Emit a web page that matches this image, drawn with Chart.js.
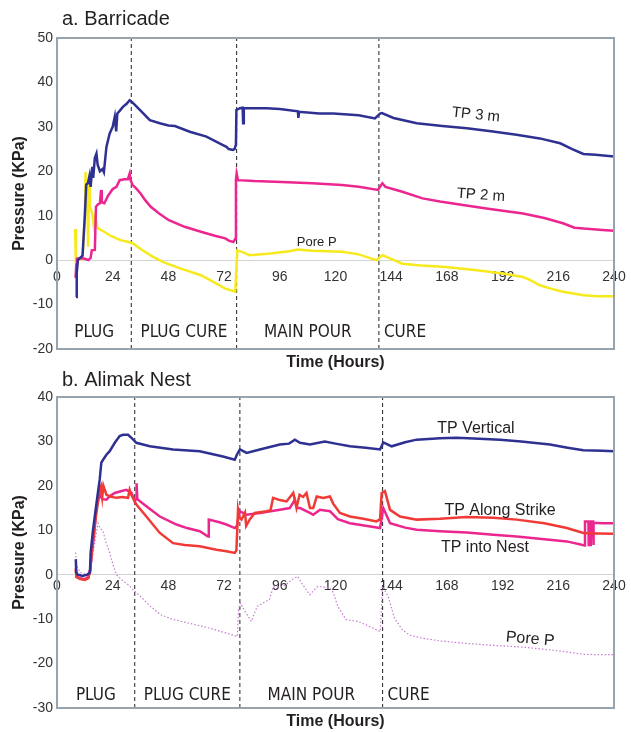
<!DOCTYPE html>
<html lang="en">
<head>
<meta charset="UTF-8">
<title>Barricade and Alimak Nest pressures</title>
<script src="https://cdn.jsdelivr.net/npm/chart.js@4"></script>
<style>
  body { margin: 0; background: #fff; }
  #wrap { position: relative; width: 631px; height: 732px; }
  canvas { position: absolute; left: 0; }
  #chartA { top: 0; }
  #chartB { top: 366px; }
</style>
</head>
<body>
<div id="wrap">
  <canvas id="chartA" width="631" height="380"></canvas>
  <canvas id="chartB" width="631" height="366"></canvas>
</div>
<script>
// ---- data: [hour, kPa] pairs ----
const phaseNames = ["PLUG", "PLUG CURE", "MAIN POUR", "CURE"];

// a. Barricade
const barricadePhases = [32, 77.4, 138.7];
const barricadeTP3 = [[8.2,-8.3],[8.5,-3],[9,0],[10,0.5],[11,1],[12,10],[12.6,17],[13.3,17.3],[14,19],[14.5,16.5],[15.2,21],[15.6,18.5],[16.3,23],[17,24],[17.5,21.5],[18.5,20],[19.6,20.5],[20.2,19.8],[21.3,25.5],[22.7,28.5],[24,30],[24.9,32.3],[25.5,29],[26,33],[27,33.6],[28.4,34.5],[30,35.2],[31.3,36],[32.5,35.5],[35.7,33.8],[40,31.5],[44.3,30.8],[48,30.3],[50.8,30.2],[57.2,28.9],[64.4,27.8],[71.5,25.9],[73,25.5],[74,25],[75.8,24.8],[76.5,25],[77.1,26],[77.3,33.8],[78.8,34.2],[80,34.3],[80.2,30.8],[80.5,34.2],[90.3,34.2],[96,34],[103.8,33.5],[104,32],[104.3,33.4],[113,33],[119,33],[130,32.6],[137,31.9],[139.2,33],[140,33.1],[145,32],[155,30.8],[166,30.2],[176.6,29.7],[187,29],[198,28.2],[208,27.4],[216.8,26.3],[222,25],[226.8,23.9],[232,23.7],[240,23.3]];
const barricadeTP2 = [[8,-4],[8.3,-1],[8.6,0.3],[10,0.5],[12,0.3],[13.5,0],[14.5,0.5],[15,2.2],[16.3,2.3],[16.8,12],[17.5,12.5],[18.5,12.8],[19,15.8],[19.3,13],[20.4,12.8],[22,14.5],[24,16],[25.6,16.5],[27,18],[29,18.2],[30.5,18.2],[31.3,19.5],[31.7,18],[32.6,16.9],[34,16.2],[36,15],[38,13.5],[40.4,12],[44,10.5],[48.2,9],[55,7.5],[62,6.4],[68,5.5],[72.5,4.9],[74,4.4],[76,4.1],[76.8,4.8],[77.1,18],[77.4,19.5],[78,18],[85,17.8],[96.8,17.6],[110,17.3],[122.8,16.9],[130,16.5],[138.3,15.8],[140.2,17.3],[141.5,16.5],[148.8,15.4],[157.5,13.9],[165,13.2],[174.9,12.4],[185,11.6],[200.8,10.5],[210,9.5],[218,8.3],[223,7.3],[226.9,7.1],[235,6.8],[240,6.6]];
const barricadePore = [[7.8,7],[8.1,0],[8.6,0.3],[11,0.2],[12,10],[12.3,19.9],[12.6,15],[13,18],[13.4,3],[13.8,17],[14.2,12],[15.2,10.5],[15.8,8],[16.5,10],[17.3,7.5],[17.8,7.1],[20,6.5],[23,5.5],[27.3,4.5],[30,4.2],[32.6,3.8],[36,2.5],[41.2,0.8],[46,-0.5],[53.4,-1.9],[62,-3.4],[66,-4.5],[72.5,-6.4],[76.8,-7.1],[77.7,2.2],[80,1.8],[82.9,1.1],[92,1.5],[100,2],[103.7,2.4],[110,2.1],[122.8,1.9],[130,1.3],[137.6,0],[140.2,1.1],[143,0.5],[148.8,-0.8],[157,-1.2],[166.2,-1.5],[180,-2.2],[192.2,-3],[200.8,-3.8],[204,-4.5],[207.8,-5.6],[212,-6.3],[218,-7.1],[226.9,-7.9],[233,-8.1],[240,-8.1]];

// b. Alimak Nest
const nestPhases = [33.5, 78.8, 140.3];
const nestVertical = [[8.1,3.5],[8.3,0.5],[9,0],[11,-0.3],[13,0],[14.2,0.5],[14.5,5],[15.5,10],[16.5,14],[17.5,18],[18.4,21.4],[19.1,25.2],[20,26],[21.3,27],[22.7,27.8],[24.9,29.7],[27,31.2],[28.5,31.5],[30.6,31.5],[32.1,30.8],[34.2,29.7],[40,28.9],[50,28.2],[61.5,27.8],[71.5,26.6],[76.6,25.9],[77.5,27],[78.8,28.2],[81.7,27.4],[87.4,28.2],[96,29.3],[100,29.5],[102.5,30.4],[104.7,29.7],[109,29.3],[115.4,30],[120,29.5],[126.2,28.9],[133,28.6],[139.2,28.2],[140.6,29.8],[144.2,28.9],[150,29.8],[155,30.4],[165,30.7],[172.2,30.8],[182,30.6],[190.9,30.4],[200,30],[212.4,29.3],[220,28.6],[226.8,28],[235,27.9],[240,27.8]];
const nestStrike = [[8.1,1.5],[8.4,-0.5],[10,-1],[12,-1.2],[13.5,-0.8],[14.3,1],[15,5],[16,10],[17,14],[18.4,19.1],[19,19.9],[19.5,17.5],[20,20],[21.3,18],[23,17.6],[25.6,17.3],[28,17.5],[30.6,17.3],[31.3,19.1],[32,18],[34.2,15.8],[38.5,13.1],[44.3,9.4],[50,7.1],[55,6.7],[61.5,6.4],[68.7,5.6],[73,5.3],[76.6,4.9],[77.3,5.5],[78,14.6],[78.5,13],[79.5,12.4],[81,14],[81.5,11],[83,12.4],[85.2,13.9],[90.3,14.3],[92,14.5],[93.1,17.3],[96,16.8],[98.9,16.5],[101.8,18.4],[103.2,15],[104.5,18],[106,17.5],[107.5,18.4],[109,15],[110.4,15],[111.9,17.6],[114.7,17.3],[117.6,17.6],[119,16],[121.9,13.9],[126.2,13.1],[132,12.6],[137.7,12],[139.2,12.5],[139.9,18.4],[141.3,18.8],[143.5,14.6],[147.8,13.1],[155,12.4],[165,12.6],[176.5,13],[188,12.8],[198.1,12.4],[210,11.6],[219.7,10.5],[226.8,9.4],[233,9.3],[240,9.2]];
const nestInto = [[8.1,1],[8.4,-0.5],[10,-0.8],[12,-1],[13.5,-0.5],[14.3,1],[15,5],[16,9],[17,15.4],[18.4,18],[19.5,17],[21.3,16.9],[23,17.8],[24.9,18.4],[27.5,18.8],[29.9,19.1],[32.1,18.4],[33.5,16.5],[34.1,17],[34.3,20.6],[34.6,17],[38.5,15.4],[44.3,13.1],[51.5,11.3],[56,10.5],[61.5,9.8],[65.1,8.6],[65.4,12.4],[70,11.8],[73,11.3],[76.6,10.5],[77.5,11],[78.8,14.3],[81.6,13.5],[87.4,13.9],[96,14.6],[100.3,15],[102.5,16.9],[103.5,15],[104.7,15],[109,13.9],[110.4,13.5],[113.3,14.6],[117.6,14.3],[121,12.5],[126.2,11.6],[133,11],[139.2,10.5],[140.6,15],[143.5,11.6],[150,10.6],[155,10.1],[165,9.8],[176.5,9.5],[188,9],[198.1,8.6],[210,8],[219.7,7.5],[227.4,6.6],[227.5,12],[229,12],[229.1,6.7],[230,6.7],[230.1,12],[231,12],[231.1,6.7],[231.3,11.7],[235,11.6],[240,11.6]];
const nestPore = [[8,5],[8.5,2],[10,0.5],[13,0],[15,3],[16.5,8],[17.7,11.6],[18.5,10.5],[19.8,9.8],[21,7.5],[22.7,4.9],[24,2.5],[25.6,0],[28,-1.2],[30.8,-2.3],[33,-3.5],[36,-4.9],[40,-7],[44.7,-9],[49,-9.9],[53.4,-10.5],[60,-11.3],[65.5,-12],[72,-13],[77.7,-13.9],[78.2,-8],[79,-6.4],[81.1,-8.3],[83.7,-10.5],[86.3,-7.1],[89,-6.3],[91.5,-5.6],[93.3,-2.6],[96,-2.8],[98.5,-2.3],[102,-0.8],[103.7,-0.4],[105.4,-1.9],[108.9,-4.5],[112.4,-2.6],[117.6,-3],[119,-4],[121,-7.1],[124.5,-10.1],[129.7,-10.5],[133.2,-11.3],[139.3,-12.8],[140,-5],[140.2,-2.6],[142.7,-4.9],[145.4,-9.8],[148.8,-12.4],[152,-13.6],[157.5,-14.3],[165,-14.9],[174.9,-15.4],[188,-15.9],[200.8,-16.3],[214,-17],[226.9,-17.9],[233,-18],[240,-18]];

const FONT = '"Liberation Sans", Arial, sans-serif';
const NARROW = '"Liberation Sans Narrow", "DejaVu Sans Condensed", Arial, sans-serif';

function pts(pairs) { return pairs.map(p => ({x: p[0], y: p[1]})); }

function line(pairs, color, extra) {
    return Object.assign({
        data: pts(pairs), borderColor: color, borderWidth: 2.5,
        pointRadius: 0, tension: 0, fill: false
    }, extra || {});
}

// text, frame and phase labels
const decor = {
    id: "decor",
    afterDatasetsDraw(chart, args, o) {
        const {ctx, chartArea: a, scales: {x, y}} = chart;
        ctx.save();
        ctx.strokeStyle = "#98a4ad";
        ctx.lineWidth = 2;
        ctx.strokeRect(a.left, a.top, a.right - a.left, a.bottom - a.top);

        ctx.fillStyle = "#231f20";
        ctx.font = "20px " + FONT;
        ctx.textAlign = "left";
        ctx.textBaseline = "alphabetic";
        ctx.fillText(o.title, 62, o.titleY);

        ctx.font = "bold 16px " + FONT;
        ctx.textAlign = "center";
        ctx.textBaseline = "middle";
        ctx.fillText("Time (Hours)", (a.left + a.right) / 2, a.bottom + 14);
        ctx.save();
        ctx.translate(20, (a.top + a.bottom) / 2);
        ctx.rotate(-Math.PI / 2);
        ctx.fillText("Pressure (KPa)", 0, 0);
        ctx.restore();

        // phase names between the dashed boundaries
        ctx.font = "17px " + NARROW;
        const py = y.getPixelForValue(o.phaseY);
        const edges = [x.min].concat(o.phases);
        phaseNames.forEach((name, i) => {
            if (i < 3) {
                ctx.textAlign = "center";
                ctx.fillText(name, (x.getPixelForValue(edges[i]) + x.getPixelForValue(edges[i + 1])) / 2, py);
            } else {
                ctx.textAlign = "left";
                ctx.fillText(name, x.getPixelForValue(edges[3]) + 5, py);
            }
        });

        // series names
        o.notes.forEach(n => {
            ctx.save();
            ctx.font = n.size + "px " + FONT;
            ctx.textAlign = "center";
            ctx.translate(x.getPixelForValue(n.x), y.getPixelForValue(n.y));
            ctx.rotate((n.rot || 0) * Math.PI / 180);
            ctx.fillText(n.text, 0, 0);
            ctx.restore();
        });
        ctx.restore();
    }
};

function makeChart(id, series, phases, yMin, yMax, pad, tickPad, deco) {
    const sets = series.slice();
    phases.forEach(h => sets.push({
        data: [{x: h, y: yMin}, {x: h, y: yMax}], borderColor: "#222",
        borderWidth: 1, borderDash: [4, 3], pointRadius: 0
    }));
    return new Chart(document.getElementById(id), {
        type: "line",
        data: {datasets: sets},
        options: {
            responsive: false,
            animation: false,
            devicePixelRatio: 1,
            layout: {padding: pad},
            plugins: {legend: {display: false}, tooltip: {enabled: false}, decor: deco},
            scales: {
                x: {
                    type: "linear", min: 0, max: 240, position: {y: 0},
                    grid: {display: false, drawTicks: false},
                    border: {display: true, color: "#d4d4d4", width: 1},
                    ticks: {stepSize: 24, maxRotation: 0, autoSkip: false, padding: tickPad,
                            color: "#333", font: {size: 14, family: FONT}},
                    afterFit: s => { s.paddingLeft = 0; s.paddingRight = 0; }
                },
                y: {
                    min: yMin, max: yMax,
                    grid: {display: false, drawTicks: false},
                    border: {display: false},
                    ticks: {stepSize: 10, padding: 4, color: "#333", font: {size: 14, family: FONT}},
                    afterFit: s => { s.width = 57; }
                }
            }
        },
        plugins: [decor]
    });
}

makeChart("chartA", [
    line(barricadeTP3, "#2e3192"),
    line(barricadeTP2, "#ec268f"),
    line(barricadePore, "#f7ea1c")
], barricadePhases, -20, 50, {left: 0, right: 17, top: 38, bottom: 31}, 9, {
    title: "a. Barricade", titleY: 25, phases: barricadePhases, phaseY: -16.4,
    notes: [
        {text: "TP 3 m", x: 180.5, y: 32.7, size: 15, rot: 6},
        {text: "TP 2 m", x: 182.6, y: 14.6, size: 15, rot: 4},
        {text: "Pore P", x: 111.9, y: 4.1, size: 13}
    ]
});

makeChart("chartB", [
    line(nestVertical, "#2e3192"),
    line(nestStrike, "#ef3a36"),
    line(nestInto, "#ec268f"),
    line(nestPore, "#c77ad2", {borderWidth: 1.2, borderDash: [1.5, 2]})
], nestPhases, -30, 40, {left: 0, right: 17, top: 31, bottom: 24}, 3, {
    title: "b. Alimak Nest", titleY: 20, phases: nestPhases, phaseY: -27.2,
    notes: [
        {text: "TP Vertical", x: 180.5, y: 33, size: 16},
        {text: "TP Along Strike", x: 190.9, y: 14.5, size: 16},
        {text: "TP into Nest", x: 184.4, y: 6.1, size: 16},
        {text: "Pore P", x: 203.9, y: -14.5, size: 16, rot: 5}
    ]
});
</script>
</body>
</html>
